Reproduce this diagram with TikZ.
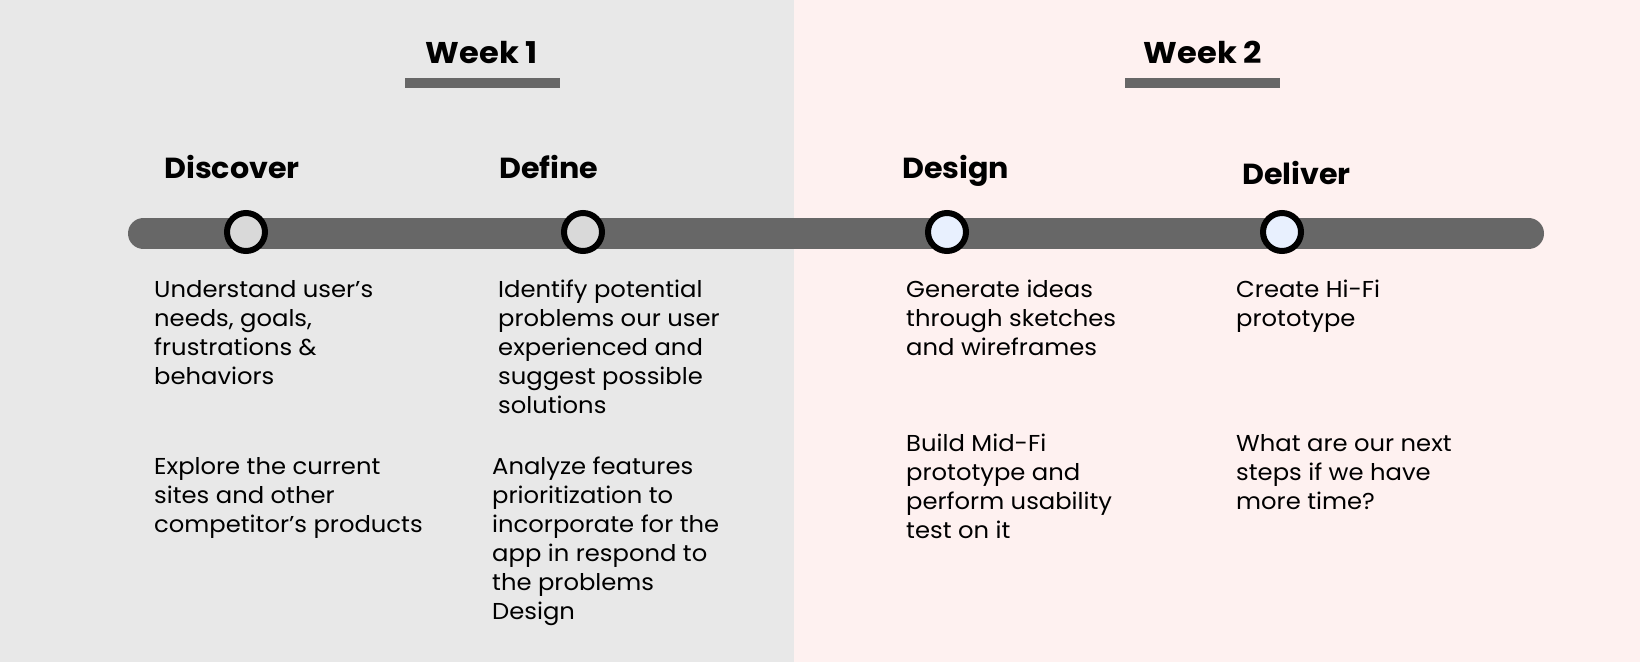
\documentclass[tikz,border=0pt]{standalone}
\usepackage{fontspec}
\setmainfont{Poppins}
\newfontfamily\bodyfont{Poppins}[FakeStretch=1.055]
\newfontfamily\headfont{Poppins}[FakeStretch=1.04]
\newfontfamily\weekfont{Poppins}[FakeStretch=1.07]
\definecolor{bgone}{HTML}{E8E8E8}
\definecolor{bgtwo}{HTML}{FEF1F0}
\definecolor{barcol}{HTML}{676767}
\definecolor{dotone}{HTML}{D9D9D9}
\definecolor{dottwo}{HTML}{E8F0FE}
\begin{document}
\begin{tikzpicture}[x=1pt,y=-1pt,
  weektitle/.style={font=\weekfont\fontsize{30}{32}\selectfont\bfseries, inner sep=0, anchor=base},
  phase/.style={font=\headfont\fontsize{29}{32}\selectfont\bfseries, inner sep=0, anchor=base west},
  body/.style={font=\bodyfont\fontsize{23}{29}\selectfont, inner sep=0, anchor=north west, align=left},
  dotone/.style={circle, draw=black, line width=6pt, fill=dotone, minimum size=38pt, inner sep=0},
  dottwo/.style={circle, draw=black, line width=6pt, fill=dottwo, minimum size=38pt, inner sep=0},
  uline/.style={fill=barcol}]
\useasboundingbox (0,0) rectangle (1640,662);
\fill[bgone] (0,0) rectangle (794,662);
\fill[bgtwo] (794,0) rectangle (1640,662);
% week titles
\node[weektitle] (w1) at (482,63) {Week 1};
\fill[uline] (405,78) rectangle (560,88);
\node[weektitle] (w2) at (1203,63) {Week 2};
\fill[uline] (1125,78) rectangle (1280,88);
% timeline bar
\coordinate (bs) at (143.5,233.5);
\coordinate (be) at (1528.5,233.5);
\draw[barcol, line width=31pt, line cap=round] (bs) -- (be);
% dots
\node[dotone] (d1) at (246,232) {};
\node[dotone] (d2) at (583,232) {};
\node[dottwo] (d3) at (947,232) {};
\node[dottwo] (d4) at (1282,232) {};
% phase titles
\node[phase] (p1) at (164,178) {Discover};
\node[phase] (p2) at (499,178) {Define};
\node[phase] (p3) at (902,178) {Design};
\node[phase] (p4) at (1242,184) {Deliver};
% body texts
\node[body] (t1) at (154,277) {\strut Understand user’s\\needs, goals,\\frustrations \&\\behaviors};
\node[body] (t2) at (498,277) {\strut Identify potential\\problems our user\\experienced and\\suggest possible\\solutions};
\node[body] (t3) at (906,277) {\strut Generate ideas\\through sketches\\and wireframes};
\node[body] (t4) at (1236,277) {\strut Create Hi-Fi\\prototype};
\node[body] (t5) at (154,454) {\strut Explore the current\\sites and other\\competitor’s products};
\node[body] (t6) at (492,454) {\strut Analyze features\\prioritization to\\incorporate for the\\app in respond to\\the problems\\Design};
\node[body] (t7) at (906,431) {\strut Build Mid-Fi\\prototype and\\perform usability\\test on it};
\node[body] (t8) at (1236,431) {\strut What are our next\\steps if we have\\more time?};
\end{tikzpicture}
\end{document}
